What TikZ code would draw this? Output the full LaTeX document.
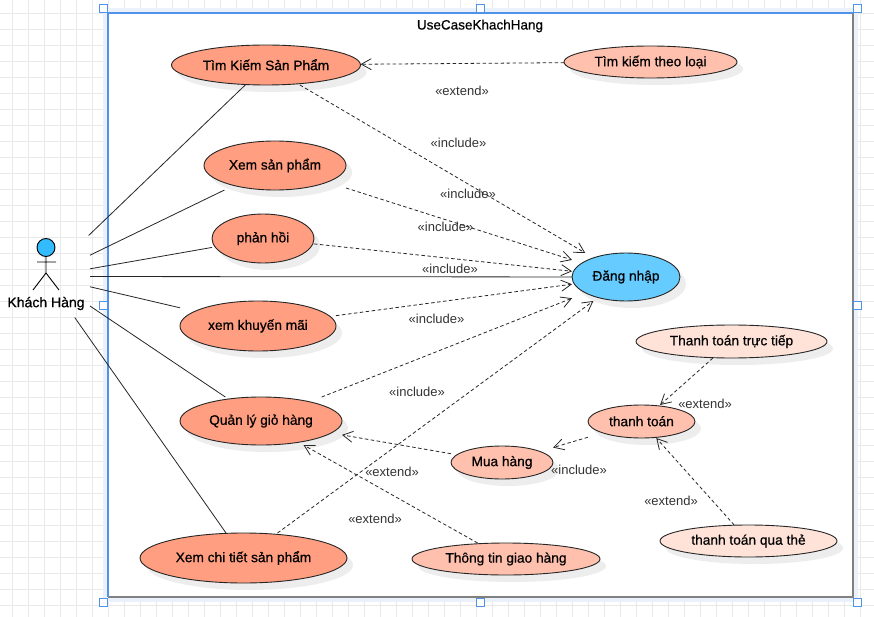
\documentclass[tikz,border=0pt]{standalone}
\usepackage{fontspec}
\setmainfont{Liberation Sans}
\newfontfamily\ucfont[FakeBold=0.6]{Liberation Sans}
\usetikzlibrary{arrows.meta,shapes.geometric,shadows}
\definecolor{salmon}{HTML}{FF9E80}
\definecolor{midsalmon}{HTML}{FFC0AD}
\definecolor{palesalmon}{HTML}{FFE3D9}
\definecolor{loginblue}{HTML}{66CCFF}
\definecolor{actorblue}{HTML}{33BBFF}
\definecolor{gridline}{HTML}{E9E9E9}
\definecolor{halo}{HTML}{EAF1FB}
\definecolor{selblue}{HTML}{4F93EA}
\tikzset{
  usecase/.style={ellipse,draw=black!85,line width=0.9pt,inner sep=0pt,outer sep=0pt,
    font=\ucfont\fontsize{13.7}{16}\selectfont,
    drop shadow={shadow xshift=6pt,shadow yshift=-7pt,fill=black!7,opacity=1}},
  portbox/.style={rectangle,draw=none,inner sep=0pt,outer sep=0pt},
  assoc/.style={draw=black!85,line width=0.8pt},
  depend/.style={draw=black!85,line width=0.8pt,dash pattern=on 3.5pt off 2.5pt,
    -{Straight Barb[length=10pt,width=11pt,line width=0.8pt]}},
  stereo/.style={font=\fontsize{13}{15}\selectfont,text=black!80,inner sep=0pt},
  handle/.style={rectangle,draw=selblue,fill=white,line width=0.9pt,minimum size=8pt,inner sep=0pt},
  actorline/.style={draw=black,line width=0.9pt},
}
% name, cx, cy, width, height, fill, text
\newcommand{\ucase}[7]{%
  \node[usecase,minimum width=#4pt,minimum height=#5pt,fill=#6] (#1e) at (#2,#3) {\raisebox{0.7pt}{#7}};
  \node[portbox,minimum width=#4pt,minimum height=#5pt] (#1) at (#2,#3) {};
}
\begin{document}
\begin{tikzpicture}[x=1pt,y=-1pt]
\useasboundingbox (0,0) rectangle (874,617);
\fill[white] (0,0) rectangle (874,617);
% grid
\foreach \gx in {0,...,54} \draw[gridline,line width=0.7pt] ({12.5+16*\gx},0) -- ({12.5+16*\gx},617);
\foreach \gy in {0,...,37} \draw[gridline,line width=0.7pt] (0,{13+16*\gy}) -- (874,{13+16*\gy});
% frame
\fill[halo] (103,8) rectangle (858,602);
\fill[white] (108,13) rectangle (853,597);
\draw[black!50,line width=1.6pt] (853,13) -- (853,597) -- (108,597);
\draw[selblue,line width=1.2pt] (108,597) -- (108,13) -- (853,13);
\node[font=\ucfont\fontsize{13.5}{15}\selectfont,inner sep=0pt] (title) at (480,26) {UseCaseKhachHang};
% use cases
\ucase{tk}{266}{65}{189}{40}{salmon}{Tìm Kiếm Sản Phẩm}
\ucase{xsp}{275}{165.5}{142}{49}{salmon}{Xem sản phẩm}
\ucase{ph}{263}{238.5}{102}{49}{salmon}{phản hồi}
\ucase{dn}{626}{277}{108}{48}{loginblue}{Đăng nhập}
\ucase{km}{258}{326}{156}{50}{salmon}{xem khuyến mãi}
\ucase{gh}{261}{421}{162}{48}{salmon}{Quản lý giỏ hàng}
\ucase{ct}{243.5}{558}{207}{50}{salmon}{Xem chi tiết sản phẩm}
\ucase{tl}{650.5}{62}{173}{32}{midsalmon}{Tìm kiếm theo loại}
\ucase{tt}{731.5}{341.5}{191}{33}{palesalmon}{Thanh toán trực tiếp}
\ucase{pay}{641.5}{421.5}{107}{33}{midsalmon}{thanh toán}
\ucase{mh}{502}{462.5}{102}{33}{midsalmon}{Mua hàng}
\ucase{gi}{506}{559}{188}{32}{midsalmon}{Thông tin giao hàng}
\ucase{qt}{748.5}{541}{177}{32}{palesalmon}{thanh toán qua thẻ}
% actor
\draw[actorline,fill=actorblue] (46,247.5) circle (9);
\draw[actorline] (46,256.5) -- (46,273) (37,262) -- (56,262) (33,290) -- (46,273) -- (59,290);
\node[font=\ucfont\fontsize{14}{16}\selectfont,inner sep=0pt] (actorlabel) at (46,303.5) {Khách Hàng};
\node[portbox,minimum width=88pt,minimum height=82pt] (actor) at (46,276.5) {};
% associations
\draw[assoc] (actor) -- (tk);
\draw[assoc] (actor) -- (xsp);
\draw[assoc] (actor) -- (ph);
\draw[assoc] (actor) -- (dn);
\draw[assoc] (actor) -- (km);
\draw[assoc] (actor) -- (gh);
\draw[assoc] (actor) -- (ct);
% dependencies
\draw[depend] (tk) -- (dn);
\draw[depend] (xsp) -- (dn);
\draw[depend] (ph) -- (dn);
\draw[depend] (km) -- (dn);
\draw[depend] (gh) -- (dn);
\draw[depend] (ct) -- (dn);
\draw[depend] (tl) -- (tk);
\draw[depend] (tt) -- (pay);
\draw[depend] (qt) -- (pay);
\draw[depend] (pay) -- (mh);
\draw[depend] (mh) -- (gh);
\draw[depend] (gi) -- (gh);
% labels
\node[stereo] (l1) at (462,91) {«extend»};
\node[stereo] (l2) at (458.5,143) {«include»};
\node[stereo] (l3) at (468,194) {«include»};
\node[stereo] (l4) at (445.5,227) {«include»};
\node[stereo] (l5) at (450,269) {«include»};
\node[stereo] (l6) at (436.5,319) {«include»};
\node[stereo] (l7) at (417,392) {«include»};
\node[stereo] (l8) at (392,472) {«extend»};
\node[stereo] (l9) at (375,519) {«extend»};
\node[stereo] (l10) at (705,404) {«extend»};
\node[stereo] (l11) at (579,470) {«include»};
\node[stereo] (l12) at (671,501) {«extend»};
% selection handles
\node[handle] (h1) at (103.5,8) {};
\node[handle] (h2) at (480,8) {};
\node[handle] (h3) at (857,8) {};
\node[handle] (h4) at (103.5,305) {};
\node[handle] (h5) at (857,305) {};
\node[handle] (h6) at (103.5,602) {};
\node[handle] (h7) at (480,602) {};
\node[handle] (h8) at (857,602) {};
\end{tikzpicture}
\end{document}
